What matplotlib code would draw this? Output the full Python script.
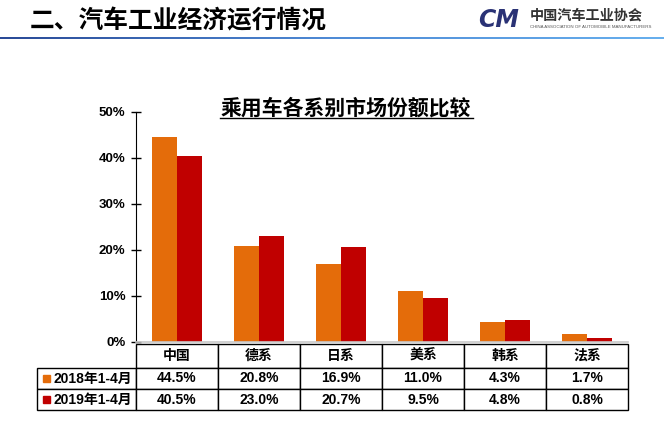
import matplotlib
matplotlib.use("Agg")
import matplotlib.pyplot as plt
import numpy as np
from matplotlib.table import Table
from matplotlib.patches import Rectangle

plt.rcParams['font.family'] = ['Liberation Sans', 'Noto Sans CJK SC', 'DejaVu Sans']

categories = ['中国', '德系', '日系', '美系', '韩系', '法系']
series_names = ['2018年1-4月', '2019年1-4月']
share_2018 = [44.5, 20.8, 16.9, 11.0, 4.3, 1.7]
share_2019 = [40.5, 23.0, 20.7, 9.5, 4.8, 0.8]
yticks = [0, 10, 20, 30, 40, 50]
colors = ['#E46C0A', '#C00000']

W, H = 664, 425
fig = plt.figure(figsize=(W / 100, H / 100), dpi=100)

# header
fig.text(30 / W, 1 - 21 / H, '二、汽车工业经济运行情况', fontsize=17.8, fontweight='bold',
         ha='left', va='center', family=['Noto Sans CJK SC'])
fig.text(478 / W, 1 - 20 / H, 'CM', fontsize=17, fontweight='bold', style='italic',
         color='#2A3275', ha='left', va='center', family=['DejaVu Sans'])
fig.text(530 / W, 1 - 16 / H, '中国汽车工业协会', fontsize=10.2, fontweight='bold',
         color='#333333', ha='left', va='center', family=['Noto Sans CJK SC'])
fig.text(530 / W, 1 - 27.5 / H, 'CHINA ASSOCIATION OF AUTOMOBILE MANUFACTURERS', fontsize=3.2,
         color='#555555', ha='left', va='center')

# gradient rule under header
lax = fig.add_axes([0, 1 - 39 / H, 1, 2.2 / H])
grad = np.linspace(0, 1, 256).reshape(1, -1)
cmap = matplotlib.colors.LinearSegmentedColormap.from_list('rule', ['#2A4A97', '#4F8BD6', '#68B0EE'])
lax.imshow(grad, aspect='auto', cmap=cmap)
lax.axis('off')

# chart
ax_l, ax_r, ax_t, ax_b = 136, 628, 112, 342
ax = fig.add_axes([ax_l / W, 1 - ax_b / H, (ax_r - ax_l) / W, (ax_b - ax_t) / H])
x = np.arange(len(categories))
bw = 0.31
ax.bar(x - bw / 2, share_2018, bw, color=colors[0])
ax.bar(x + bw / 2, share_2019, bw, color=colors[1])
ax.set_xlim(-0.5, len(categories) - 0.5)
ax.set_ylim(0, 50)
ax.set_yticks(yticks)
ax.set_yticklabels([f'{v}%' for v in yticks], fontsize=9.5, fontweight='bold')
ax.set_xticks([])
ax.tick_params(axis='y', direction='inout', length=7, width=1, pad=4)
for s in ['top', 'right']:
    ax.spines[s].set_visible(False)
ax.spines['left'].set_color('black')
ax.spines['bottom'].set_color('#C8C8C8')
ax.spines['bottom'].set_linewidth(1.2)

fig.text(346 / W, 1 - 108 / H, '乘用车各系别市场份额比较', fontsize=15, fontweight='bold',
         ha='center', va='center', family=['Noto Sans CJK SC'])
fig.add_artist(plt.Line2D([220 / W, 473 / W], [1 - 118 / H] * 2, color='black', lw=1))

# data table
aw, ah = ax_r - ax_l, ax_b - ax_t
tab_left, tab_top, tab_bot = 37, 344, 410
label_w, col_w = ax_l - tab_left, aw / len(categories)
row_h = [24, 21, 21]
tab = Table(ax, bbox=[(tab_left - ax_l) / aw, (ax_b - tab_bot) / ah,
                      (ax_r - tab_left) / aw, (tab_bot - tab_top) / ah])
for j, c in enumerate(categories):
    tab.add_cell(0, j + 1, col_w, row_h[0], text=c, loc='center', facecolor='white')
for i, (name, vals) in enumerate(zip(series_names, [share_2018, share_2019])):
    cell = tab.add_cell(i + 1, 0, label_w, row_h[i + 1], text=name, loc='left', facecolor='white')
    cell.PAD = 16 / label_w
    for j, v in enumerate(vals):
        tab.add_cell(i + 1, j + 1, col_w, row_h[i + 1], text=f'{v:.1f}%', loc='center',
                     facecolor='white')
tab.auto_set_font_size(False)
tab.set_fontsize(10)
for cell in tab.get_celld().values():
    cell.get_text().set_fontweight('bold')
    cell.set_linewidth(1)
ax.add_table(tab)

# legend keys in row labels
y_top = tab_top
for i, col in enumerate(colors):
    y_top += row_h[i]
    yc = y_top + row_h[i + 1] / 2
    ax.add_patch(Rectangle(((43 - ax_l) / aw, (ax_b - yc - 3.5) / ah), 7 / aw, 7 / ah,
                           transform=ax.transAxes, color=col, clip_on=False))

fig.savefig('out.png', dpi=100, facecolor='white')
